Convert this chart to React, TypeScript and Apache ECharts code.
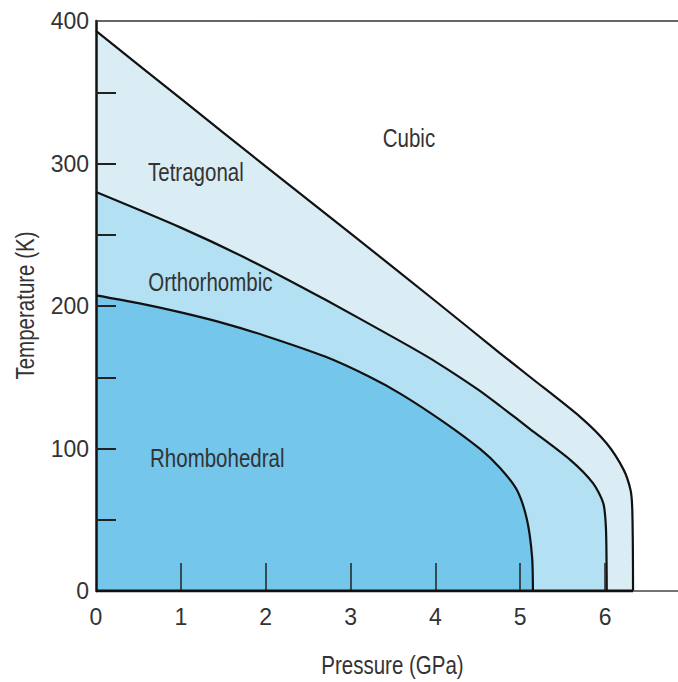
import React, { useEffect, useRef } from "react";
import * as echarts from "echarts";

// Tick labels
const pressureTicks = [0, 1, 2, 3, 4, 5, 6];
const pressureMinorTicks = [1, 2, 3, 4, 5, 6];
const temperatureTickValues = [50, 100, 150, 200, 250, 300, 350];

// Phase boundaries: [pressure (GPa), temperature (K)]
const cubicBoundary: [number, number][] = [
  [0, 393], [1, 345.5], [2, 298], [3, 251], [4, 203.5], [4.76, 167],
  [5.12, 150], [5.71, 122], [6.02, 103.5], [6.22, 85], [6.3, 71],
  [6.32, 59], [6.328, 30], [6.33, 0],
];
const tetragonalBoundary: [number, number][] = [
  [0, 280], [1, 255], [1.82, 232], [2.7, 204.5], [3.58, 175.5], [4.0, 161],
  [4.5, 141.5], [4.76, 130], [5.12, 113.5], [5.59, 92], [5.86, 75.5],
  [5.98, 61.5], [6.01, 45], [6.018, 20], [6.02, 0],
];
const orthorhombicBoundary: [number, number][] = [
  [0, 207.5], [0.5, 202], [1, 195.5], [1.5, 188], [2, 179], [2.7, 164.5],
  [3.2, 151], [3.6, 138], [4.1, 118.5], [4.53, 99.5], [4.76, 86.5],
  [4.96, 71], [5.08, 50], [5.14, 24], [5.15, 0],
];
const baseLine: [number, number][] = [[0, 0], [6.33, 0]];

// Region names and their anchors (pressure, temperature)
const phaseNames = ["Cubic", "Tetragonal", "Orthorhombic", "Rhombohedral"];
const phaseLabelAnchors: [number, number][] = [
  [3.38, 317.5], [0.613, 294], [0.617, 217], [0.637, 93],
];

const xTitle = "Pressure (GPa)";
const yTitle = "Temperature (K)";

const FONT = "'Liberation Sans', Arial, sans-serif";
const TEXT = "#333333";
const NARROW = 0.82;

export default function App() {
  const ref = useRef<HTMLDivElement>(null);
  useEffect(() => {
    if (!ref.current) return;
    const chart = echarts.init(ref.current, undefined, { renderer: "svg" });
    const boundary = (data: [number, number][], fill: string) => ({
      type: "line" as const,
      data,
      showSymbol: false,
      symbol: "none",
      smooth: 0.25,
      z: 2,
      lineStyle: { color: "#111111", width: 2.2 },
      areaStyle: { color: fill, opacity: 1 },
      silent: true,
    });
    chart.setOption({
      animation: false,
      grid: { left: 96, right: 0, top: 21, bottom: 91, containLabel: false },
      xAxis: [
        {
          type: "value",
          min: 0,
          max: 6.86,
          interval: 1,
          z: 3,
          axisLine: { show: true, lineStyle: { color: "#444", width: 1.5 } },
          axisTick: {
            show: true,
            inside: true,
            length: 28,
            customValues: pressureMinorTicks,
            lineStyle: { color: "#222", width: 1.5 },
          },
          axisLabel: {
            customValues: pressureTicks,
            margin: 14,
            fontFamily: FONT,
            fontSize: 23,
            color: TEXT,
          },
          splitLine: { show: false },
        },
        {
          type: "value",
          position: "top",
          min: 0,
          max: 6.86,
          z: 3,
          axisLine: { show: true, lineStyle: { color: "#333", width: 1.5 } },
          axisTick: { show: false },
          axisLabel: { show: false },
          splitLine: { show: false },
        },
      ],
      yAxis: {
        type: "value",
        min: 0,
        max: 400,
        interval: 50,
        z: 3,
        axisLine: { show: true, lineStyle: { color: "#111", width: 2.5 } },
        axisTick: {
          show: true,
          inside: true,
          length: 20,
          customValues: temperatureTickValues,
          lineStyle: { color: "#222", width: 2 },
        },
        axisLabel: {
          margin: 7,
          fontFamily: FONT,
          fontSize: 23,
          color: TEXT,
          formatter: (v: number) => (v % 100 === 0 ? String(v) : ""),
        },
        splitLine: { show: false },
      },
      series: [
        boundary(cubicBoundary, "#daedf5"),
        boundary(tetragonalBoundary, "#b3e0f2"),
        boundary(orthorhombicBoundary, "#74c6eb"),
        {
          type: "line",
          data: baseLine,
          showSymbol: false,
          symbol: "none",
          z: 4,
          lineStyle: { color: "#111111", width: 3 },
          silent: true,
        },
      ],
    });

    const textStyle = { fontFamily: FONT, fontSize: 25, fill: TEXT };
    const labels = phaseNames.map((name, i) => {
      const [px, py] = chart.convertToPixel({ gridIndex: 0 }, phaseLabelAnchors[i]) as number[];
      return {
        type: "text",
        x: px,
        y: py,
        scaleX: NARROW,
        silent: true,
        z: 10,
        style: { ...textStyle, text: name, align: "left", verticalAlign: "middle" },
      };
    });
    chart.setOption({
      graphic: [
        ...labels,
        {
          type: "text",
          x: 392.5,
          y: 665,
          scaleX: NARROW,
          silent: true,
          style: { ...textStyle, text: xTitle, align: "center", verticalAlign: "middle" },
        },
        {
          type: "text",
          x: 25,
          y: 305.5,
          rotation: Math.PI / 2,
          scaleX: NARROW,
          silent: true,
          style: { ...textStyle, text: yTitle, align: "center", verticalAlign: "middle" },
        },
      ],
    });
    return () => chart.dispose();
  }, []);
  return <div ref={ref} style={{ width: 678, height: 682, position: "absolute", left: 0, top: 0 }} />;
}
